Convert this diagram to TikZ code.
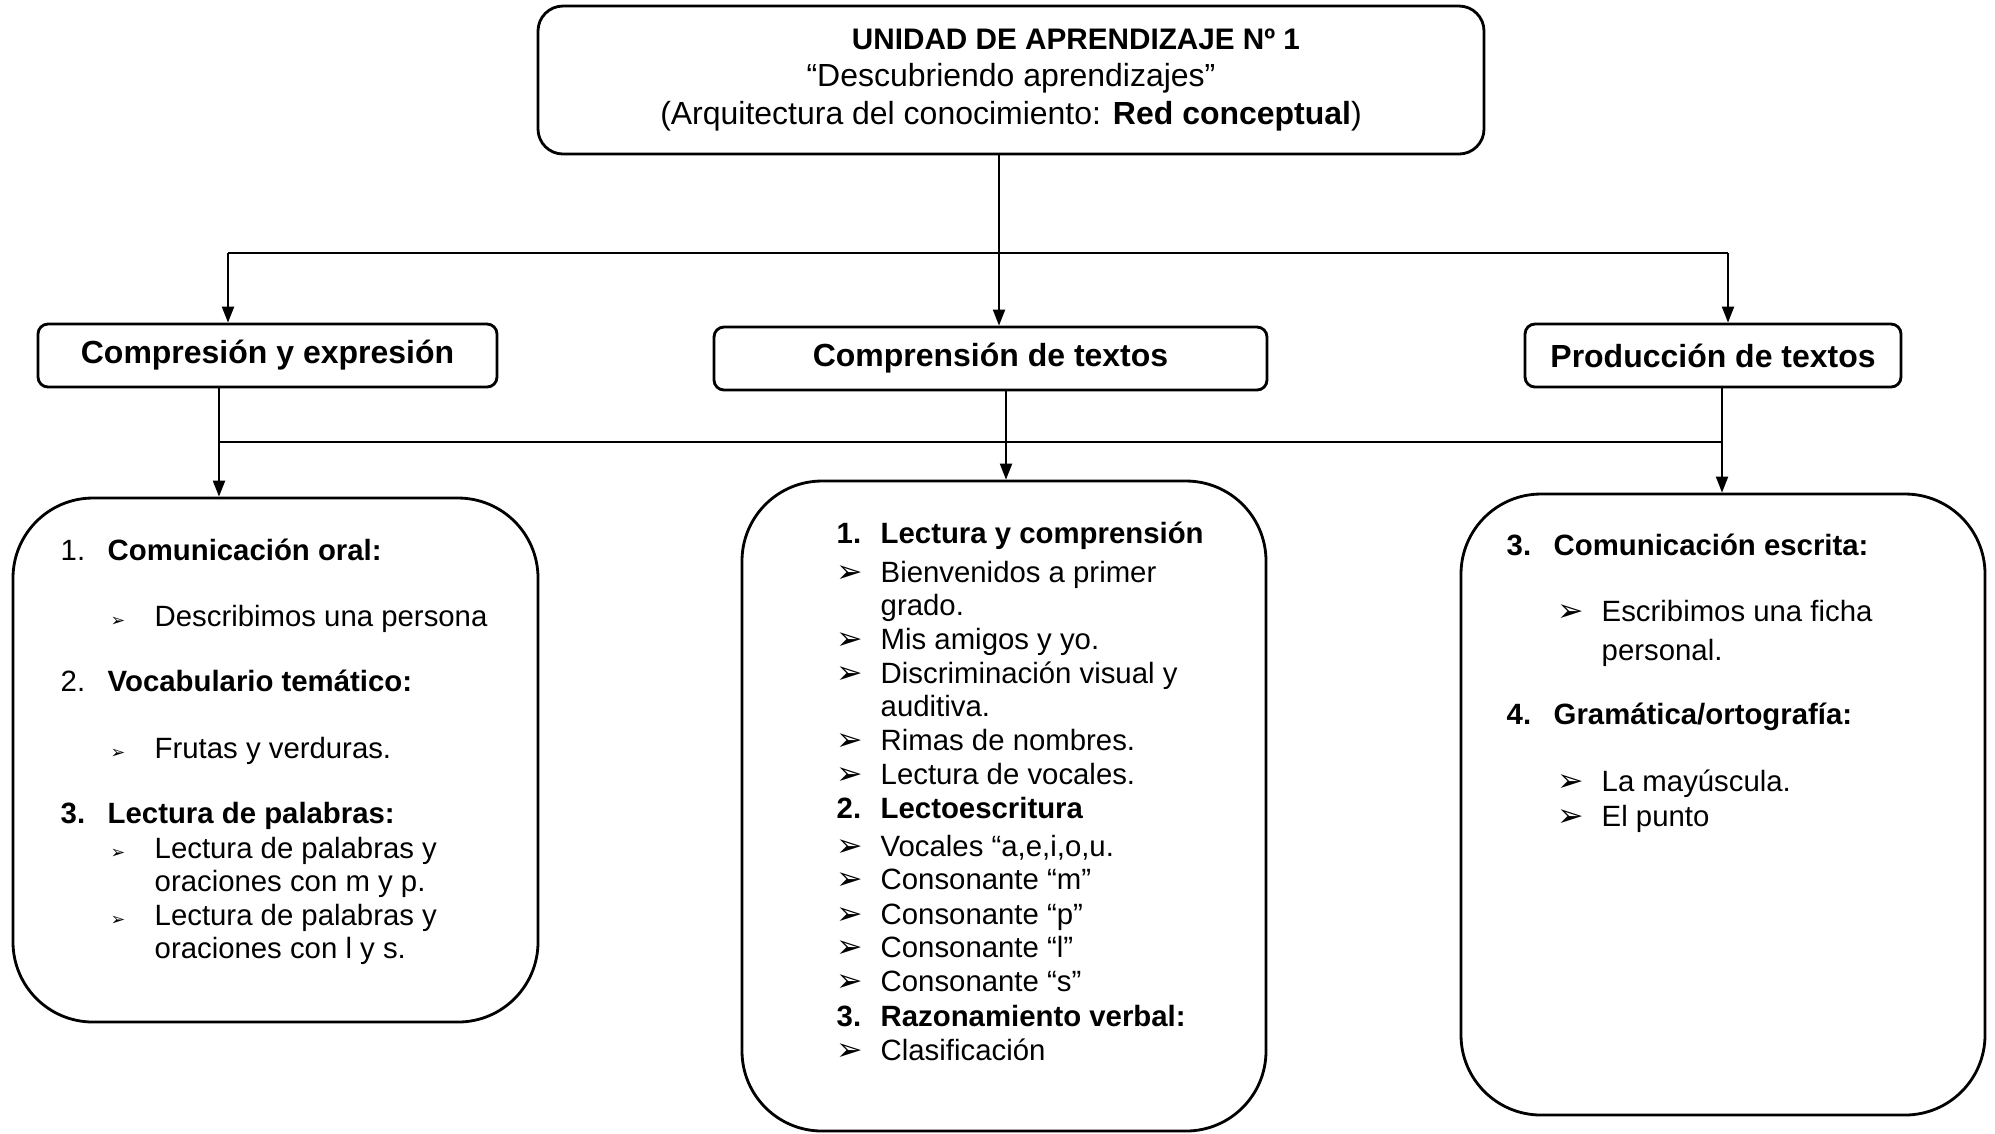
\documentclass[tikz,border=0pt]{standalone}
\usepackage{fontspec}
\setmainfont{Liberation Sans}
\newfontfamily\dingfont{DejaVu Sans}
\usepackage{tikz}
\usetikzlibrary{arrows.meta}
\definecolor{myblack}{rgb}{0.000,0.000,0.000}
\definecolor{mywhite}{rgb}{1.000,1.000,1.000}
\tikzstyle{titulo}=[draw=myblack,fill=mywhite,line width=0.8pt,rounded corners=0.25cm,minimum width=9.46cm,minimum height=1.48cm,align=center,font=\fontsize{9.1}{10.8}\selectfont]
\tikzstyle{rama}=[draw=myblack,fill=mywhite,line width=0.8pt,rounded corners=0.1cm,minimum height=0.63cm,font=\fontsize{9.1}{11}\selectfont\bfseries]
\tikzstyle{caja}=[draw=myblack,line width=0.8pt,rounded corners=0.8cm]
\tikzstyle{linea}=[anchor=mid west,inner sep=0pt,font=\fontsize{8.35}{10}\selectfont]
\tikzstyle{flechas}=[draw=myblack,line width=0.6pt,-{Triangle[length=0.16cm,width=0.12cm]}]
\newcommand{\flecha}{\makebox[0.44cm][l]{\fontsize{9}{9}\selectfont\dingfont ➢}}
\newcommand{\flechita}{\makebox[0.44cm][l]{\fontsize{5}{5}\selectfont\dingfont ➢}}
\newcommand{\nro}[2][0.47cm]{\makebox[#1][l]{#2}}

\begin{document}
\begin{tikzpicture}
	\useasboundingbox (0,0) rectangle (19.95,-11.33);
	%\begin{pgfonlayer}{nodelayer}
		\node [style=titulo] (0) at (10.11,-0.80) {\hspace*{1.3cm}{\fontsize{8.45}{10.8}\selectfont\textbf{UNIDAD DE APRENDIZAJE Nº 1}}\\“Descubriendo aprendizajes”\\(Arquitectura del conocimiento: \textbf{Red conceptual})};
		\node [style=rama,minimum width=4.59cm] (1) at (2.675,-3.555) {Compresión y expresión};
		\node [style=rama,minimum width=5.53cm] (2) at (9.905,-3.585) {Comprensión de textos};
		\node [style=rama,minimum width=3.76cm] (3) at (17.13,-3.555) {Producción de textos};
		\node [style=caja,minimum width=5.25cm,minimum height=5.24cm] (4) at (2.755,-7.60) {};
		\node [style=caja,minimum width=5.24cm,minimum height=6.50cm] (5) at (10.04,-8.06) {};
		\node [style=caja,minimum width=5.24cm,minimum height=6.21cm] (6) at (17.23,-8.045) {};
		\node [style=linea] (7) at (0.60,-5.51) {\nro{1.}\textbf{Comunicación oral:}};
		\node [style=linea] (8) at (1.10,-6.17) {\flechita Describimos una persona};
		\node [style=linea] (9) at (0.60,-6.82) {\nro{2.}\textbf{Vocabulario temático:}};
		\node [style=linea] (10) at (1.10,-7.49) {\flechita Frutas y verduras.};
		\node [style=linea] (11) at (0.60,-8.14) {\textbf{\nro{3.}Lectura de palabras:}};
		\node [style=linea] (12) at (1.10,-8.49) {\flechita Lectura de palabras y};
		\node [style=linea] (13) at (1.54,-8.82) {oraciones con m y p.};
		\node [style=linea] (14) at (1.10,-9.16) {\flechita Lectura de palabras y};
		\node [style=linea] (15) at (1.54,-9.49) {oraciones con l y s.};
		\node [style=linea] (16) at (8.36,-5.34) {\textbf{\nro[0.44cm]{1.}Lectura y comprensión}};
		\node [style=linea] (17) at (8.36,-5.73) {\flecha Bienvenidos a primer};
		\node [style=linea] (18) at (8.80,-6.06) {grado.};
		\node [style=linea] (19) at (8.36,-6.40) {\flecha Mis amigos y yo.};
		\node [style=linea] (20) at (8.36,-6.74) {\flecha Discriminación visual y};
		\node [style=linea] (21) at (8.80,-7.07) {auditiva.};
		\node [style=linea] (22) at (8.36,-7.41) {\flecha Rimas de nombres.};
		\node [style=linea] (23) at (8.36,-7.75) {\flecha Lectura de vocales.};
		\node [style=linea] (24) at (8.36,-8.09) {\textbf{\nro[0.44cm]{2.}Lectoescritura}};
		\node [style=linea] (25) at (8.36,-8.47) {\flecha Vocales “a,e,i,o,u.};
		\node [style=linea] (26) at (8.36,-8.80) {\flecha Consonante “m”};
		\node [style=linea] (27) at (8.36,-9.15) {\flecha Consonante “p”};
		\node [style=linea] (28) at (8.36,-9.48) {\flecha Consonante “l”};
		\node [style=linea] (29) at (8.36,-9.82) {\flecha Consonante “s”};
		\node [style=linea] (30) at (8.36,-10.17) {\textbf{\nro[0.44cm]{3.}Razonamiento verbal:}};
		\node [style=linea] (31) at (8.36,-10.51) {\flecha Clasificación};
		\node [style=linea] (32) at (15.06,-5.46) {\textbf{\nro{3.}Comunicación escrita:}};
		\node [style=linea] (33) at (15.57,-6.12) {\flecha Escribimos una ficha};
		\node [style=linea] (34) at (16.01,-6.51) {personal.};
		\node [style=linea] (35) at (15.06,-7.15) {\textbf{\nro{4.}Gramática/ortografía:}};
		\node [style=linea] (36) at (15.57,-7.82) {\flecha La mayúscula.};
		\node [style=linea] (37) at (15.57,-8.17) {\flecha El punto};
		\coordinate (40) at (2.28,-2.53);
		\coordinate (41) at (17.28,-2.53);
		\coordinate (42) at (9.99,-2.53);
		\coordinate (43) at (2.19,-4.42);
		\coordinate (44) at (17.22,-4.42);
		\coordinate (45) at (10.06,-4.42);
	%\end{pgfonlayer}
	%\begin{pgfonlayer}{edgelayer}
		\draw [style=flechas] (0.south -| 42) to (2.north -| 42);
		\draw [line width=0.6pt] (40) to (41);
		\draw [style=flechas] (40) to (1.north -| 40);
		\draw [style=flechas] (41) to (3.north -| 41);
		\draw [line width=0.6pt] (43) to (44);
		\draw [style=flechas] (1.south -| 43) to (4.north -| 43);
		\draw [style=flechas] (2.south -| 45) to (5.north -| 45);
		\draw [style=flechas] (3.south -| 44) to (6.north -| 44);
	%\end{pgfonlayer}
\end{tikzpicture}
\end{document}
